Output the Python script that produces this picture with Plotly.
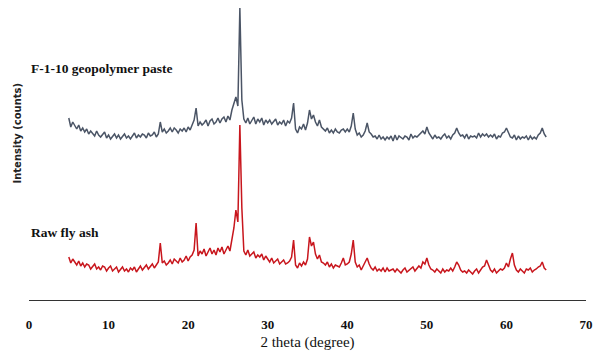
import numpy as np
import plotly.graph_objects as go

# Scan grid (degrees 2-theta)
SCAN_START = 5.0
SCAN_STOP = 65.0
SCAN_STEP = 0.25
two_theta = np.arange(SCAN_START, SCAN_STOP + SCAN_STEP / 2, SCAN_STEP)

# Raw fly ash intensities (a.u.), one group of four per degree
raw_fly_ash = [
    43, 37, 41, 38,  35, 39, 34, 37,  33, 36, 35, 31,  34, 36, 31, 33,  30, 34, 33, 29,
    32, 34, 29, 31,  33, 28, 30, 33,  29, 31, 28, 32,  30, 33, 28, 31,  34, 30, 32, 35,
    31, 34, 36, 32,  35, 38, 57, 37,  39, 35, 37, 40,  36, 41, 39, 37,  42, 38, 40, 44,
    39, 43, 45, 50,  77, 44, 49, 46,  51, 44, 48, 52,  46, 50, 45, 52,  48, 53, 46, 50,
    54, 49, 61, 72,  90, 78, 175, 92, 49, 45, 50, 44,  46, 48, 42, 45,  43, 46, 40, 44,
    41, 38, 42, 37,  39, 41, 36, 38,  40, 36, 37, 39,  43, 60, 35, 32,  37, 34, 38, 35,
    41, 63, 54, 58,  46, 41, 45, 38,  37, 35, 38, 33,  36, 32, 35, 34,  33, 37, 42, 35,
    36, 38, 46, 60,  38, 33, 35, 30,  34, 37, 42, 36,  32, 30, 33, 29,  31, 29, 32, 28,
    32, 29, 30, 31,  28, 31, 29, 27,  30, 32, 28, 30,  31, 33, 29, 32,  34, 32, 38, 36,
    42, 35, 31, 30,  28, 31, 29, 27,  31, 28, 30, 29,  32, 29, 33, 38,  35, 30, 28, 29,
    27, 30, 28, 26,  29, 31, 27, 30,  33, 34, 40, 35,  30, 28, 31, 27,  29, 31, 30, 32,
    37, 33, 41, 47,  35, 30, 28, 31,  29, 27, 31, 30,  32, 28, 30, 31,  33, 34, 38, 32,
    30,
]

# F-1-10 geopolymer paste intensities (a.u.)
geopolymer_paste = [
    52, 43, 48, 44,  41, 45, 39, 42,  38, 41, 36, 39,  37, 34, 39, 35,  33, 36, 38, 32,
    35, 31, 34, 36,  32, 35, 31, 34,  36, 32, 34, 31,  34, 37, 32, 35,  33, 36, 35, 32,
    37, 34, 35, 38,  33, 36, 48, 38,  41, 37, 39, 42,  38, 42, 40, 37,  41, 39, 42, 38,
    43, 40, 45, 50,  62, 44, 48, 45,  47, 50, 44, 49,  51, 46, 48, 52,  47, 51, 53, 48,
    54, 50, 60, 68,  73, 64, 162, 70, 51, 47, 52, 46,  50, 53, 46, 51,  48, 52, 45, 50,
    47, 50, 46, 49,  51, 45, 48, 46,  50, 44, 49, 47,  52, 67, 41, 37,  43, 41, 46, 40,
    47, 60, 51, 55,  48, 44, 50, 43,  41, 39, 42, 37,  40, 37, 41, 38,  37, 40, 41, 38,
    41, 38, 44, 57,  41, 35, 37, 33,  35, 39, 47, 38,  36, 33, 34, 31,  35, 31, 33, 30,
    33, 31, 34, 29,  35, 30, 34, 32,  31, 34, 33, 30,  36, 32, 34, 33,  35, 37, 39, 36,
    43, 37, 34, 31,  35, 32, 33, 31,  34, 36, 32, 34,  31, 35, 37, 42,  37, 34, 35, 32,
    36, 31, 34, 33,  34, 32, 37, 33,  36, 34, 36, 33,  35, 33, 36, 31,  34, 33, 37, 38,
    42, 37, 33, 32,  35, 30, 34, 31,  33, 32, 34, 30,  34, 31, 33, 31,  35, 37, 42, 36,
    33,
]

# Vertical offset used to stack the paste pattern above the fly ash pattern
PASTE_OFFSET = 130

series_labels = ["F-1-10 geopolymer paste", "Raw fly ash"]
x_ticks = [0, 10, 20, 30, 40, 50, 60, 70]

serif = "Liberation Serif, Times New Roman, serif"

fig = go.Figure()
fig.add_trace(go.Scatter(
    x=two_theta, y=np.array(raw_fly_ash), mode="lines",
    line=dict(color="#c8161d", width=1.5), name=series_labels[1],
))
fig.add_trace(go.Scatter(
    x=two_theta, y=np.array(geopolymer_paste) + PASTE_OFFSET, mode="lines",
    line=dict(color="#4b5566", width=1.5), name=series_labels[0],
))

# Series labels placed beside each pattern
fig.add_annotation(x=0.0, y=232, xref="x", yref="y",
                   text=series_labels[0], showarrow=False, xanchor="left",
                   font=dict(family=serif, size=13.5, color="#111", weight="bold"))
fig.add_annotation(x=0.0, y=68, xref="x", yref="y",
                   text=series_labels[1], showarrow=False, xanchor="left",
                   font=dict(family=serif, size=13.5, color="#111", weight="bold"))
fig.add_annotation(x=-0.0215, y=0.555, xref="paper", yref="paper",
                   text="<b>Intensity (counts)</b>", textangle=-90, showarrow=False,
                   xanchor="center", yanchor="middle",
                   font=dict(family="DejaVu Sans, sans-serif", size=10, color="#222"))

fig.update_layout(
    width=595, height=351,
    margin=dict(l=29, r=9, t=0, b=51),
    paper_bgcolor="white", plot_bgcolor="white",
    showlegend=False,
    xaxis=dict(
        range=[0, 70], tickvals=x_ticks, showgrid=False, zeroline=False,
        showline=True, linecolor="#333", linewidth=1.3,
        ticks="", ticklabelstandoff=12,
        tickfont=dict(family=serif, size=13, color="#111", weight="bold"),
        title=dict(text="2 theta (degree)", standoff=8,
                   font=dict(family=serif, size=15, color="#111")),
    ),
    yaxis=dict(range=[0, 300], visible=False),
)

fig.write_html("out.html")
